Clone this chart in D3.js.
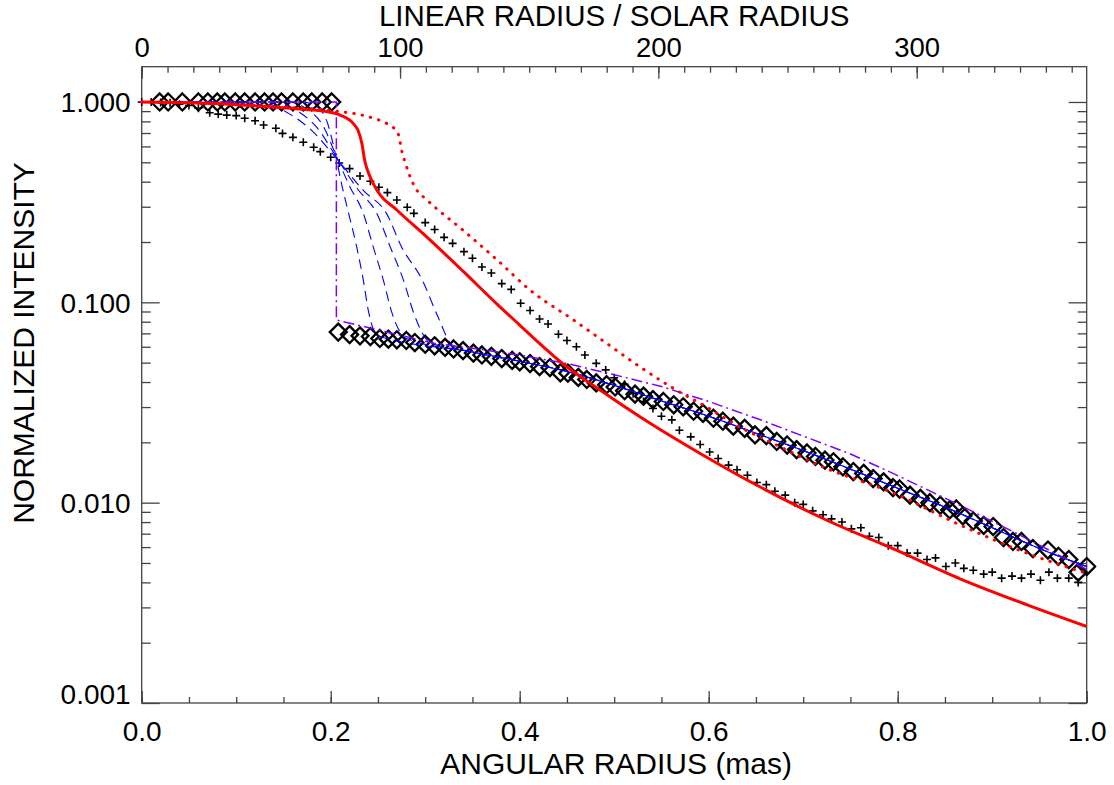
<!DOCTYPE html>
<html>
<head>
<meta charset="utf-8">
<script src="https://cdn.jsdelivr.net/npm/d3@7"></script>
<style>
  body { margin: 0; background: #fff; }
  text { font-family: "Liberation Sans", Arial, Helvetica, sans-serif; fill: #000; }
</style>
</head>
<body>
<script>
// DATA
const xTicks = [0.0, 0.2, 0.4, 0.6, 0.8, 1.0];
const topTicks = [0, 100, 200, 300];
const yTicks = [0.001, 0.01, 0.1, 1];

// observed points, inner disc (all at 1.0)
const diamondTopX = [0.019, 0.028, 0.043, 0.060, 0.070, 0.080, 0.088, 0.099, 0.109, 0.120,
    0.130, 0.139, 0.148, 0.160, 0.171, 0.180, 0.191, 0.201];
// observed points, outer envelope [x, intensity]
const diamondLow = [
    [0.208, 0.071], [0.220, 0.069], [0.231, 0.068], [0.242, 0.0675], [0.252, 0.066], [0.261, 0.0655],
    [0.270, 0.065], [0.280, 0.0645], [0.289, 0.063], [0.300, 0.0618], [0.310, 0.0607], [0.321, 0.0596],
    [0.330, 0.0585], [0.340, 0.0574], [0.351, 0.0558], [0.360, 0.0546], [0.370, 0.0538], [0.381, 0.0524],
    [0.392, 0.0513], [0.400, 0.0505], [0.411, 0.0495], [0.421, 0.0478], [0.432, 0.0472], [0.443, 0.0445],
    [0.451, 0.0443], [0.462, 0.0422], [0.471, 0.0412], [0.481, 0.0396], [0.492, 0.0388], [0.501, 0.0378],
    [0.511, 0.0362], [0.522, 0.0348], [0.531, 0.0340], [0.541, 0.0327], [0.552, 0.0320], [0.563, 0.0308],
    [0.573, 0.0301], [0.584, 0.0286], [0.594, 0.0279], [0.605, 0.0264], [0.615, 0.0255], [0.626, 0.0241],
    [0.638, 0.0235], [0.649, 0.0218], [0.661, 0.0216], [0.672, 0.0202], [0.683, 0.0194], [0.693, 0.0184],
    [0.704, 0.0177], [0.713, 0.0170], [0.723, 0.0163], [0.732, 0.0160], [0.742, 0.0151], [0.753, 0.0143],
    [0.764, 0.0140], [0.774, 0.0132], [0.785, 0.0127], [0.795, 0.0119], [0.802, 0.0117], [0.813, 0.0109],
    [0.824, 0.0105], [0.834, 0.0100], [0.845, 0.0097], [0.855, 0.0092], [0.862, 0.0093], [0.869, 0.0086],
    [0.880, 0.0081], [0.891, 0.0077], [0.901, 0.0076], [0.912, 0.0067], [0.922, 0.0064], [0.931, 0.0064],
    [0.943, 0.0059], [0.959, 0.0058], [0.970, 0.0054], [0.981, 0.0052], [0.991, 0.0045], [1.000, 0.0048]
];

// plus markers [x, intensity]
const plusPoints = [
    [0.000, 1.0], [0.010, 1.0], [0.020, 0.995], [0.030, 0.99], [0.040, 0.975], [0.050, 0.96], [0.060, 0.93],
    [0.072, 0.884], [0.081, 0.87], [0.090, 0.86], [0.100, 0.855], [0.109, 0.829], [0.120, 0.806], [0.129, 0.768],
    [0.142, 0.739], [0.149, 0.697], [0.160, 0.666], [0.171, 0.629], [0.182, 0.594], [0.189, 0.565],
    [0.200, 0.530], [0.209, 0.496], [0.220, 0.465], [0.231, 0.427], [0.242, 0.402], [0.251, 0.375],
    [0.260, 0.353], [0.270, 0.324], [0.281, 0.298], [0.288, 0.278], [0.300, 0.250], [0.310, 0.231],
    [0.320, 0.211], [0.329, 0.197], [0.341, 0.179], [0.350, 0.166], [0.360, 0.150], [0.370, 0.140],
    [0.381, 0.124], [0.391, 0.116], [0.401, 0.099], [0.411, 0.091], [0.421, 0.0825], [0.430, 0.078],
    [0.441, 0.0693], [0.450, 0.0645], [0.460, 0.060], [0.469, 0.0546], [0.481, 0.0496], [0.491, 0.046],
    [0.500, 0.042], [0.511, 0.039], [0.520, 0.035], [0.531, 0.032], [0.541, 0.0295], [0.550, 0.027],
    [0.561, 0.0259], [0.569, 0.023], [0.581, 0.0213], [0.591, 0.0195], [0.601, 0.0179], [0.610, 0.0166],
    [0.621, 0.0154], [0.630, 0.0146], [0.641, 0.0137], [0.651, 0.0126], [0.661, 0.0123], [0.670, 0.0114],
    [0.681, 0.0109], [0.691, 0.0100], [0.700, 0.0098], [0.710, 0.0091], [0.721, 0.0087], [0.730, 0.0083],
    [0.741, 0.0080], [0.751, 0.0074], [0.761, 0.0075], [0.770, 0.0068], [0.780, 0.0067], [0.790, 0.0061],
    [0.800, 0.0061], [0.810, 0.0056], [0.821, 0.0056], [0.831, 0.0052], [0.840, 0.0053], [0.851, 0.0048],
    [0.861, 0.0050], [0.870, 0.0047], [0.880, 0.0046], [0.891, 0.0044], [0.900, 0.0045], [0.910, 0.0042],
    [0.921, 0.0043], [0.931, 0.0042], [0.941, 0.0044], [0.951, 0.0041], [0.960, 0.0045], [0.969, 0.0042],
    [0.981, 0.0042], [0.991, 0.0040]
];

// red solid model
const redSolid = [
    [0.000, 1.0], [0.050, 0.99], [0.100, 0.97], [0.150, 0.935], [0.196, 0.895], [0.210, 0.86], [0.224, 0.78],
    [0.229, 0.72], [0.233, 0.62], [0.236, 0.51], [0.242, 0.42], [0.250, 0.356], [0.270, 0.289], [0.305, 0.205],
    [0.340, 0.143], [0.376, 0.098], [0.400, 0.077], [0.425, 0.060], [0.443, 0.0505], [0.485, 0.0365],
    [0.538, 0.0249], [0.591, 0.0176], [0.654, 0.0120], [0.725, 0.00817], [0.795, 0.00589], [0.866, 0.00417],
    [0.937, 0.00309], [1.000, 0.00241]
];

// red dotted model
const redDotted = [
    [0.000, 1.0], [0.100, 0.975], [0.150, 0.945], [0.206, 0.90], [0.228, 0.87], [0.245, 0.83], [0.259, 0.783],
    [0.268, 0.73], [0.272, 0.68], [0.275, 0.576], [0.280, 0.48], [0.284, 0.424], [0.290, 0.37], [0.302, 0.324],
    [0.340, 0.229], [0.376, 0.163], [0.411, 0.115], [0.457, 0.0816], [0.492, 0.0624], [0.527, 0.0477],
    [0.563, 0.0371], [0.598, 0.0300], [0.633, 0.0238], [0.654, 0.0213], [0.725, 0.0148], [0.795, 0.0112],
    [0.866, 0.00774], [0.937, 0.00559], [1.000, 0.00444]
];

// violet dash-dot: uniform disc + envelope
const dashDot = [
    [0.000, 1.0], [0.206, 1.0], [0.206, 0.0816], [0.309, 0.0625], [0.350, 0.059], [0.400, 0.0545],
    [0.450, 0.0495], [0.500, 0.0435], [0.550, 0.038], [0.600, 0.032], [0.654, 0.026], [0.700, 0.0215],
    [0.750, 0.0175], [0.795, 0.0140], [0.866, 0.0097], [0.937, 0.0066], [1.000, 0.00464]
];

// blue dashed: four smoothed edges sharing one envelope tail
const blueEdge1 = [[0.000, 1.0], [0.170, 1.0], [0.185, 0.95], [0.196, 0.80], [0.205, 0.55], [0.212, 0.38],
    [0.219, 0.278], [0.2275, 0.189], [0.2345, 0.129], [0.240, 0.090], [0.250, 0.068]];
const blueEdge2 = [[0.000, 1.0], [0.155, 1.0], [0.175, 0.92], [0.192, 0.76], [0.205, 0.55], [0.220, 0.38],
    [0.2345, 0.278], [0.245, 0.189], [0.2557, 0.129], [0.265, 0.088], [0.280, 0.066]];
const blueEdge3 = [[0.000, 1.0], [0.140, 1.0], [0.165, 0.90], [0.186, 0.74], [0.205, 0.54], [0.228, 0.37],
    [0.2487, 0.278], [0.263, 0.189], [0.277, 0.129], [0.288, 0.088], [0.305, 0.063]];
const blueEdge4 = [[0.000, 1.0], [0.125, 1.0], [0.155, 0.88], [0.180, 0.72], [0.205, 0.53], [0.235, 0.36],
    [0.259, 0.278], [0.275, 0.189], [0.297, 0.129], [0.312, 0.088], [0.330, 0.060]];
const blueTail = [
    [0.350, 0.0565], [0.400, 0.0508], [0.450, 0.0452], [0.500, 0.0385], [0.550, 0.0322], [0.600, 0.0270],
    [0.650, 0.0222], [0.700, 0.0182], [0.750, 0.0147], [0.800, 0.0118], [0.850, 0.0095], [0.900, 0.0075],
    [0.950, 0.0059], [1.000, 0.0048]
];

// SET UP SVG DIMENSIONS
const W = 1114, H = 785;
const margin = { top: 66.7, right: 27.3, bottom: 82, left: 141.7 };
const width = W - margin.left - margin.right;
const height = H - margin.top - margin.bottom;

const svg = d3.select("body").append("svg")
    .attr("width", W)
    .attr("height", H);

const g = svg.append("g")
    .attr("transform", `translate(${margin.left},${margin.top})`);

// SCALES
const xScale = d3.scaleLinear().domain([0, 1]).range([0, width]);
const xTopScale = d3.scaleLinear().domain([0, 365.8]).range([0, width]);
const yScale = d3.scaleLog().domain([0.001, 1.5]).range([height, 0]);

const axisColor = "#444";
const labelSize = "28px";

// minor tick values
const xMinor = d3.range(0, 1.0001, 0.05);
const topMinor = d3.range(0, 366, 10);
const yMinor = [];
[0.001, 0.01, 0.1].forEach(dec => d3.range(2, 10).forEach(k => yMinor.push(k * dec)));

function styleAxis(sel) {
    sel.select(".domain").remove();
    sel.selectAll("line").attr("stroke", axisColor).attr("stroke-width", 1.3);
    sel.selectAll("text").attr("font-size", labelSize).attr("font-family", null).attr("fill", "#000");
}

// BOTTOM AXIS
g.append("g").attr("transform", `translate(0,${height})`)
    .call(d3.axisBottom(xScale).tickValues(xMinor).tickSize(-6).tickFormat(""))
    .call(styleAxis);
g.append("g").attr("transform", `translate(0,${height})`)
    .call(d3.axisBottom(xScale).tickValues(xTicks).tickSize(-12).tickPadding(18).tickFormat(d3.format(".1f")))
    .call(styleAxis);

// TOP AXIS
g.append("g")
    .call(d3.axisTop(xTopScale).tickValues(topMinor).tickSize(-6).tickFormat(""))
    .call(styleAxis);
g.append("g")
    .call(d3.axisTop(xTopScale).tickValues(topTicks).tickSize(-12).tickPadding(10).tickFormat(d3.format("d")))
    .call(styleAxis)
    .selectAll("text").attr("font-size", "27.5px");

// LEFT AXIS
g.append("g")
    .call(d3.axisLeft(yScale).tickValues(yMinor).tickSize(-9).tickFormat(""))
    .call(styleAxis);
const leftAxis = g.append("g")
    .call(d3.axisLeft(yScale).tickValues(yTicks).tickSize(-18).tickPadding(11).tickFormat(d3.format(".3f")))
    .call(styleAxis);
leftAxis.selectAll("text").attr("dy", d => d === 0.001 ? "0em" : "0.35em");

// RIGHT AXIS
g.append("g").attr("transform", `translate(${width},0)`)
    .call(d3.axisRight(yScale).tickValues(yMinor).tickSize(-9).tickFormat(""))
    .call(styleAxis);
g.append("g").attr("transform", `translate(${width},0)`)
    .call(d3.axisRight(yScale).tickValues(yTicks).tickSize(-18).tickFormat(""))
    .call(styleAxis);

// FRAME
g.append("rect")
    .attr("width", width).attr("height", height)
    .attr("fill", "none").attr("stroke", axisColor).attr("stroke-width", 1.3);

// AXIS TITLES
svg.append("text")
    .attr("x", margin.left + width / 2 + 2).attr("y", 774)
    .attr("text-anchor", "middle").attr("font-size", "30px")
    .text("ANGULAR RADIUS (mas)");
svg.append("text")
    .attr("x", margin.left + width / 2).attr("y", 25.5)
    .attr("text-anchor", "middle").attr("font-size", "29.5px")
    .text("LINEAR RADIUS / SOLAR RADIUS");
svg.append("text")
    .attr("transform", "translate(34,343) rotate(-90)")
    .attr("text-anchor", "middle").attr("font-size", "30px")
    .text("NORMALIZED INTENSITY");

// PLOT CONTENT (clipped to the frame)
svg.append("defs").append("clipPath").attr("id", "clip")
    .append("rect").attr("x", -10).attr("y", -2).attr("width", width + 20).attr("height", height + 4);
const plot = g.append("g").attr("clip-path", "url(#clip)");

const smooth = d3.line().x(d => xScale(d[0])).y(d => yScale(d[1])).curve(d3.curveMonotoneX);
const straight = d3.line().x(d => xScale(d[0])).y(d => yScale(d[1]));

// DIAMONDS
const diamonds = diamondTopX.map(x => [x, 1.0]).concat(diamondLow);
plot.selectAll(".diamond").data(diamonds).enter().append("path")
    .attr("class", "diamond")
    .attr("transform", d => `translate(${xScale(d[0])},${yScale(d[1])})`)
    .attr("d", "M0,-8.5L8.5,0L0,8.5L-8.5,0Z")
    .attr("fill", "none").attr("stroke", "#000").attr("stroke-width", 2.3);

// PLUSES
plot.selectAll(".plus").data(plusPoints).enter().append("path")
    .attr("class", "plus")
    .attr("transform", d => `translate(${xScale(d[0])},${yScale(d[1])})`)
    .attr("d", "M-4,0H4M0,-4V4")
    .attr("stroke", "#000").attr("stroke-width", 1.6);

// BLUE DASHED EDGES
[blueEdge1, blueEdge2, blueEdge3, blueEdge4].forEach(edge => {
    const last = edge[edge.length - 1][0];
    plot.append("path")
        .attr("d", smooth(edge.concat(blueTail.filter(p => p[0] > last))))
        .attr("fill", "none").attr("stroke", "#0000ff").attr("stroke-width", 1.1)
        .attr("stroke-dasharray", "10,6");
});

// VIOLET DASH-DOT
plot.append("path")
    .attr("d", straight(dashDot))
    .attr("fill", "none").attr("stroke", "#7f00ff").attr("stroke-width", 1.5)
    .attr("stroke-dasharray", "11,4,2,4");

// RED DOTTED
plot.append("path")
    .attr("d", smooth(redDotted))
    .attr("fill", "none").attr("stroke", "#ff0000").attr("stroke-width", 3)
    .attr("stroke-linecap", "round")
    .attr("stroke-dasharray", "0.5,8");

// RED SOLID
plot.append("path")
    .attr("d", smooth(redSolid))
    .attr("fill", "none").attr("stroke", "#ff0000").attr("stroke-width", 3);
</script>
</body>
</html>
